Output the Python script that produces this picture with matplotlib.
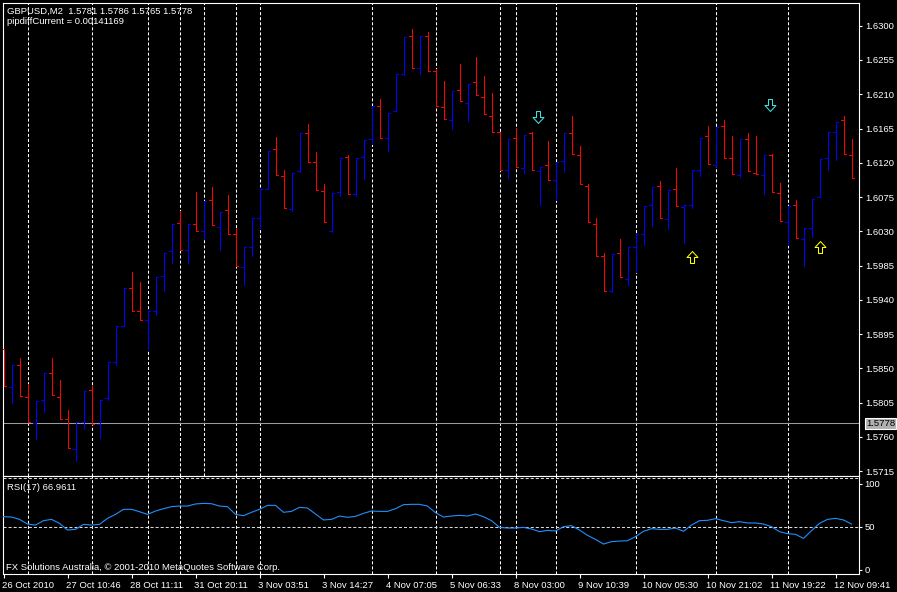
import matplotlib
matplotlib.use('Agg')
import matplotlib.pyplot as plt
from matplotlib.collections import LineCollection
from matplotlib.path import Path
import matplotlib.transforms as mtransforms

plt.rcParams['font.family'] = ['Liberation Sans', 'DejaVu Sans']
plt.rcParams['lines.scale_dashes'] = False

# ---------------- data ----------------
opens = [1.5876, 1.5825, 1.5855, 1.5812, 1.5778, 1.5808, 1.5844, 1.5812, 1.5783, 1.5744,
         1.5780, 1.5822, 1.5777, 1.5811, 1.5859, 1.5905, 1.5956, 1.5925, 1.5913, 1.5926,
         1.5971, 1.6004, 1.6041, 1.6005, 1.6040, 1.6030, 1.6071, 1.6036, 1.6058, 1.6026,
         1.5983, 1.6010, 1.6048, 1.6086, 1.6138, 1.6102, 1.6059, 1.6109, 1.6159, 1.6121,
         1.6083, 1.6030, 1.6081, 1.6128, 1.6079, 1.6128, 1.6151, 1.6195, 1.6152, 1.6188,
         1.6237, 1.6286, 1.6245, 1.6287, 1.6241, 1.6193, 1.6176, 1.6215, 1.6199, 1.6226,
         1.6207, 1.6182, 1.6160, 1.6110, 1.6152, 1.6113, 1.6159, 1.6109, 1.6117, 1.6097,
         1.6122, 1.6159, 1.6130, 1.6090, 1.6040, 1.5997, 1.5951, 1.6001, 1.5968, 1.6010,
         1.6027, 1.6064, 1.6089, 1.6046, 1.6085, 1.6062, 1.6065, 1.6111, 1.6155, 1.6117,
         1.6168, 1.6126, 1.6104, 1.6151, 1.6107, 1.6104, 1.6130, 1.6080, 1.6042, 1.6064,
         1.6020, 1.6035, 1.6075, 1.6126, 1.6161, 1.6176, 1.6130]
highs = [1.5876, 1.5855, 1.5864, 1.5830, 1.5807, 1.5844, 1.5864, 1.5835, 1.5795, 1.5779,
         1.5820, 1.5827, 1.5809, 1.5858, 1.5905, 1.5955, 1.5977, 1.5963, 1.5926, 1.5970,
         1.6002, 1.6039, 1.6057, 1.6039, 1.6082, 1.6070, 1.6088, 1.6056, 1.6078, 1.6034,
         1.6009, 1.6047, 1.6086, 1.6136, 1.6154, 1.6110, 1.6107, 1.6159, 1.6171, 1.6134,
         1.6092, 1.6080, 1.6126, 1.6130, 1.6126, 1.6150, 1.6195, 1.6204, 1.6186, 1.6237,
         1.6285, 1.6296, 1.6286, 1.6292, 1.6243, 1.6227, 1.6214, 1.6250, 1.6224, 1.6259,
         1.6234, 1.6212, 1.6160, 1.6151, 1.6164, 1.6157, 1.6160, 1.6115, 1.6148, 1.6121,
         1.6159, 1.6181, 1.6142, 1.6092, 1.6048, 1.6001, 1.6000, 1.6020, 1.6009, 1.6026,
         1.6063, 1.6088, 1.6096, 1.6084, 1.6113, 1.6064, 1.6110, 1.6153, 1.6168, 1.6167,
         1.6176, 1.6155, 1.6151, 1.6159, 1.6155, 1.6130, 1.6131, 1.6093, 1.6063, 1.6071,
         1.6034, 1.6073, 1.6125, 1.6160, 1.6174, 1.6181, 1.6151]
lows = [1.5827, 1.5805, 1.5814, 1.5779, 1.5757, 1.5793, 1.5815, 1.5784, 1.5745, 1.5729,
        1.5770, 1.5777, 1.5759, 1.5808, 1.5854, 1.5905, 1.5926, 1.5913, 1.5876, 1.5920,
        1.5952, 1.5989, 1.6006, 1.5989, 1.6031, 1.6020, 1.6038, 1.6006, 1.6027, 1.5984,
        1.5959, 1.5997, 1.6035, 1.6086, 1.6104, 1.6060, 1.6057, 1.6108, 1.6121, 1.6084,
        1.6042, 1.6029, 1.6076, 1.6079, 1.6076, 1.6099, 1.6145, 1.6153, 1.6136, 1.6188,
        1.6235, 1.6245, 1.6236, 1.6241, 1.6194, 1.6177, 1.6164, 1.6201, 1.6175, 1.6209,
        1.6184, 1.6161, 1.6111, 1.6100, 1.6114, 1.6107, 1.6110, 1.6065, 1.6098, 1.6071,
        1.6108, 1.6131, 1.6092, 1.6042, 1.5998, 1.5951, 1.5950, 1.5970, 1.5959, 1.5976,
        1.6012, 1.6037, 1.6047, 1.6033, 1.6063, 1.6014, 1.6060, 1.6103, 1.6118, 1.6116,
        1.6126, 1.6105, 1.6101, 1.6109, 1.6105, 1.6079, 1.6081, 1.6043, 1.6012, 1.6021,
        1.5984, 1.6023, 1.6075, 1.6110, 1.6124, 1.6131, 1.6100]
closes = [1.5827, 1.5855, 1.5814, 1.5779, 1.5807, 1.5844, 1.5815, 1.5784, 1.5745, 1.5779,
          1.5820, 1.5777, 1.5809, 1.5858, 1.5905, 1.5955, 1.5926, 1.5913, 1.5926, 1.5970,
          1.6002, 1.6039, 1.6006, 1.6039, 1.6031, 1.6070, 1.6038, 1.6056, 1.6027, 1.5984,
          1.6009, 1.6047, 1.6086, 1.6136, 1.6104, 1.6060, 1.6107, 1.6159, 1.6121, 1.6084,
          1.6042, 1.6080, 1.6126, 1.6079, 1.6126, 1.6150, 1.6195, 1.6153, 1.6186, 1.6237,
          1.6285, 1.6245, 1.6286, 1.6241, 1.6194, 1.6177, 1.6214, 1.6201, 1.6224, 1.6209,
          1.6184, 1.6161, 1.6111, 1.6151, 1.6114, 1.6157, 1.6110, 1.6115, 1.6098, 1.6121,
          1.6159, 1.6131, 1.6092, 1.6042, 1.5998, 1.5951, 1.6000, 1.5970, 1.6009, 1.6026,
          1.6063, 1.6088, 1.6047, 1.6084, 1.6063, 1.6064, 1.6110, 1.6153, 1.6118, 1.6167,
          1.6126, 1.6105, 1.6151, 1.6109, 1.6105, 1.6130, 1.6081, 1.6043, 1.6063, 1.6021,
          1.6034, 1.6073, 1.6125, 1.6160, 1.6174, 1.6131, 1.6100]

rsi = [61.6, 61.2, 58.5, 53.1, 51.9, 57.0, 58.5, 53.9, 46.1, 46.9,
       52.7, 51.9, 52.7, 59.7, 64.3, 70.2, 70.2, 67.4, 64.3, 68.2,
       70.9, 73.3, 74.0, 74.0, 76.4, 77.1, 76.7, 74.0, 73.3, 64.3,
       62.8, 66.7, 70.2, 74.8, 74.8, 66.7, 67.8, 72.5, 71.7, 64.7,
       57.8, 58.5, 62.4, 60.9, 62.0, 65.5, 68.2, 67.8, 67.8, 70.9,
       75.6, 76.0, 76.0, 74.0, 66.3, 61.2, 62.4, 63.2, 62.4, 64.7,
       61.6, 57.0, 49.2, 48.4, 48.4, 49.2, 47.3, 44.2, 45.7, 45.0,
       50.0, 51.2, 46.1, 39.9, 35.3, 29.8, 32.6, 33.3, 33.7, 38.4,
       44.6, 47.7, 46.9, 46.9, 48.4, 44.6, 51.9, 57.0, 57.4, 59.3,
       57.0, 54.7, 55.8, 54.3, 54.3, 53.1, 50.0, 44.2, 41.9, 41.1,
       36.4, 45.3, 53.9, 58.5, 59.7, 57.8, 53.1]

separator_bars = [3, 11, 18, 22, 25, 29, 32, 46, 54, 62, 64, 69, 79, 89, 98]
rsi_separator_bars = [3, 11, 18, 22, 29, 32, 46, 54, 62, 64, 69, 79, 89, 98]

price_ticks = [1.6300, 1.6255, 1.6210, 1.6165, 1.6120, 1.6075, 1.6030, 1.5985,
               1.5940, 1.5895, 1.5850, 1.5805, 1.5760, 1.5715]
bid_price = 1.5778

time_tick_bars = [0, 8, 16, 24, 32, 40, 48, 56, 64, 72, 80, 88, 96, 104]
time_tick_labels = ['26 Oct 2010', '27 Oct 10:46', '28 Oct 11:11', '31 Oct 20:11',
                    '3 Nov 03:51', '3 Nov 14:27', '4 Nov 07:05', '5 Nov 06:33',
                    '8 Nov 03:00', '9 Nov 10:39', '10 Nov 05:30', '10 Nov 21:02',
                    '11 Nov 19:22', '12 Nov 09:41']

rsi_levels = [100, 50, 0]

sell_x = [66.75, 95.75]
sell_y = [1.6180, 1.6196]
buy_x = [86.0, 102.0]
buy_y = [1.5996, 1.6010]

title_text = 'GBPUSD,M2  1.5781 1.5786 1.5765 1.5778'
info_text = 'pipdiffCurrent = 0.00141169'
rsi_text = 'RSI(17) 66.9611'
footer_text = 'FX Solutions Australia, \u00a9 2001-2010 MetaQuotes Software Corp.'

# ---------------- figure ----------------
W, H = 897, 592
fig = plt.figure(figsize=(W / 100, H / 100), dpi=100, facecolor='black')


def px_axes(l, t, r, b):
    return fig.add_axes([l / W, 1 - b / H, (r - l) / W, (b - t) / H])


FS = 6.8
ax = px_axes(2.5, 2.5, 858.5, 475.5)
axr = px_axes(2.5, 475.5, 858.5, 574)

n = len(opens)
xlim = (-0.125, 106.875)
for a in (ax, axr):
    a.set_facecolor('black')
    a.set_xlim(*xlim)
    for s in a.spines.values():
        s.set_color('white')
        s.set_linewidth(0.8)

ax.set_ylim(1.570933, 1.633047)
axr.set_ylim(-5.0, 109.5)

# separators
dash = (0, (2.2, 1.45))
for b in separator_bars:
    ax.axvline(b, color='white', lw=0.75, ls=dash, zorder=1)
for b in rsi_separator_bars:
    axr.axvline(b, color='white', lw=0.75, ls=dash, zorder=1)

# bid line
ax.axhline(bid_price, color='#9a9aa0', lw=0.75, zorder=2)

# OHLC bars
tick = 0.28
up_segs, dn_segs = [], []
for i in range(n):
    o, h, l, c = opens[i], highs[i], lows[i], closes[i]
    segs = [((i, l), (i, h)), ((i - tick, o), (i, o)), ((i, c), (i + tick, c))]
    if c >= o:
        up_segs.extend(segs)
    else:
        dn_segs.extend(segs)
ax.add_collection(LineCollection(up_segs, colors='#0000ff', linewidths=0.72,
                                 antialiaseds=False, zorder=3))
ax.add_collection(LineCollection(dn_segs, colors='#ff0000', linewidths=0.72,
                                 antialiaseds=False, zorder=3))

# arrows
down_path = Path([(-2, 6), (2, 6), (2, 0), (5.5, 0), (0, -6), (-5.5, 0), (-2, 0), (-2, 6)],
                 closed=True)
up_path = Path([(-2, -6), (2, -6), (2, 0), (5.5, 0), (0, 6), (-5.5, 0), (-2, 0), (-2, -6)],
               closed=True)
ax.plot(sell_x, sell_y, ls='none', marker=down_path, markersize=8.6,
        markerfacecolor='none', markeredgecolor='#40e0e0', markeredgewidth=0.75, zorder=4)
ax.plot(buy_x, buy_y, ls='none', marker=up_path, markersize=8.6,
        markerfacecolor='none', markeredgecolor='#ffff00', markeredgewidth=0.75, zorder=4)

# price axis
ax.yaxis.tick_right()
ax.set_yticks(price_ticks)
ax.set_yticklabels(['%.4f' % p for p in price_ticks])
ax.tick_params(axis='y', colors='white', labelcolor='white', length=2.4, width=0.8,
               pad=2.4, labelsize=FS, direction='out')
ax.set_xticks([])

# bid label on price axis
ax.annotate('%.4f' % bid_price, xy=(1.0, bid_price), xycoords=('axes fraction', 'data'),
            xytext=(7.5, 0), textcoords='offset pixels', va='center', ha='left',
            fontsize=FS, color='black',
            bbox=dict(boxstyle='square,pad=0.12', fc='#b0b0b0', ec='white', lw=0.8),
            zorder=6, annotation_clip=False)

# RSI
axr.axhline(50, color='#d8d8d8', lw=0.75, ls=dash, zorder=1)
axr.axhline(106.3, color='#d8d8d8', lw=0.75, ls=dash, zorder=1)
axr.plot(range(n), rsi, color='#1e90ff', lw=0.8, zorder=3)
axr.yaxis.tick_right()
axr.set_yticks(rsi_levels)
axr.set_yticklabels([str(v) for v in rsi_levels])
axr.tick_params(axis='y', colors='white', labelcolor='white', length=2.4, width=0.8,
                pad=2.0, labelsize=FS, direction='out')
axr.set_xticks(time_tick_bars)
axr.set_xticklabels(time_tick_labels)
axr.tick_params(axis='x', colors='white', labelcolor='white', length=2.9, width=0.8,
                pad=2.0, labelsize=FS, direction='out')
offset = mtransforms.ScaledTranslation(-2 / 100, 0, fig.dpi_scale_trans)
for lab in axr.get_xticklabels():
    lab.set_ha('left')
    lab.set_transform(lab.get_transform() + offset)


def ftext(x, y, s):
    fig.text(x / W, 1 - y / H, s, color='white', fontsize=FS, va='baseline', ha='left')


ftext(6.7, 14.0, title_text)
ftext(6.7, 23.5, info_text)
ftext(6.7, 490.0, rsi_text)
ftext(5.7, 569.5, footer_text)

fig.savefig('out.png', dpi=100, facecolor='black')
